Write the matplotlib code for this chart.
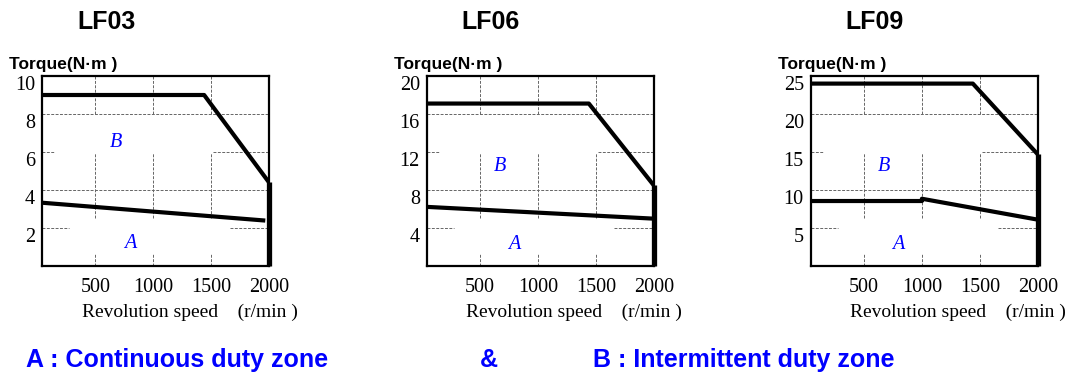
import matplotlib
matplotlib.use('Agg')
import matplotlib.pyplot as plt

models = ['LF03', 'LF06', 'LF09']
speed_ticks = [500, 1000, 1500, 2000]
torque_ticks = [[2, 4, 6, 8, 10], [4, 8, 12, 16, 20], [5, 10, 15, 20, 25]]

# intermittent (peak) torque curve B
peak_speed = [[0, 1440, 2000], [0, 1440, 2000], [0, 1440, 2000]]
peak_torque = [[9.0, 9.0, 4.4], [17.1, 17.1, 8.5], [24.0, 24.0, 14.7]]

# continuous torque curve A
cont_speed = [[0, 1950], [0, 1975], [0, 1000, 1000, 2000]]
cont_torque = [[3.35, 2.4], [6.25, 5.0], [8.55, 8.55, 8.85, 6.1]]

# zone labels (speed, torque)
label_b = [(676, 6.5), (670, 10.5), (673, 13.1)]
label_a = [(803, 1.17), (800, 2.3), (800, 2.85)]

serif = 'Liberation Serif'
sans = 'Liberation Sans'

fig = plt.figure(figsize=(10.72, 3.83), dpi=100)
lefts = [42, 426.7, 810.7]
W, H = 1072, 383

for i, name in enumerate(models):
    ax = fig.add_axes([lefts[i] / W, 1 - 266 / H, 227 / W, 190 / H])
    ax.set_xlim(40, 2000)
    ax.set_ylim(0, torque_ticks[i][-1])
    ax.set_xticks(speed_ticks)
    ax.set_yticks(torque_ticks[i])
    ax.tick_params(length=0, labelsize=14.5)
    ax.tick_params(axis='x', pad=9)
    ax.tick_params(axis='y', pad=5)
    for lab in ax.get_xticklabels() + ax.get_yticklabels():
        lab.set_fontfamily(serif)
    for lab in ax.get_yticklabels():
        lab.set_va('top')
    for sp in ax.spines.values():
        sp.set_linewidth(1.6)

    # broken dashed grid
    gkw = dict(color='#666666', lw=0.7, ls=(0, (3, 1.5)), zorder=1)
    hsegs = [[(0, 0.12), (0.826, 1)], [(0, 1)], [(0, 0.054), (0.753, 1)], [(0, 1)]]
    for y, segs in zip(torque_ticks[i][:-1], hsegs):
        for a, b in segs:
            ax.axhline(y, xmin=a, xmax=b, **gkw)
    for x in speed_ticks[:-1]:
        for a, b in [(0, 0.061), (0.254, 0.596), (0.80, 1)]:
            ax.axvline(x, ymin=a, ymax=b, **gkw)

    ax.plot(peak_speed[i], peak_torque[i], color='black', lw=3.0, zorder=3)
    ax.plot(cont_speed[i], cont_torque[i], color='black', lw=3.0, zorder=3)
    ax.plot([peak_speed[i][-1]] * 2, [0, peak_torque[i][-1]], color='black',
            lw=3.8, zorder=4, clip_on=False, solid_capstyle='butt')

    ax.text(*label_b[i], 'B', color='#0000ff', fontsize=14.5, style='italic',
            family=serif, ha='center', va='center')
    ax.text(*label_a[i], 'A', color='#0000ff', fontsize=14.5, style='italic',
            family=serif, ha='center', va='center')

    ax.text(0.283, 1.284, name, transform=ax.transAxes, fontsize=18,
            fontweight='bold', family=sans, ha='center', va='center')
    ax.text(-0.145, 1.063, 'Torque(N·m )', transform=ax.transAxes, fontsize=12.5,
            fontweight='bold', family=sans, ha='left', va='center')
    ax.text(0.65, -0.242, 'Revolution speed    (r/min )', transform=ax.transAxes,
            fontsize=14, family=serif, ha='center', va='center')

blue = '#0000ff'
fig.text(26 / W, 1 - 360 / H, 'A : Continuous duty zone', color=blue,
         fontsize=18, fontweight='bold', family=sans, ha='left', va='center')
fig.text(480 / W, 1 - 360 / H, '&', color=blue,
         fontsize=18, fontweight='bold', family=sans, ha='left', va='center')
fig.text(593 / W, 1 - 360 / H, 'B : Intermittent duty zone', color=blue,
         fontsize=18, fontweight='bold', family=sans, ha='left', va='center')

fig.savefig('out.png', dpi=100)
